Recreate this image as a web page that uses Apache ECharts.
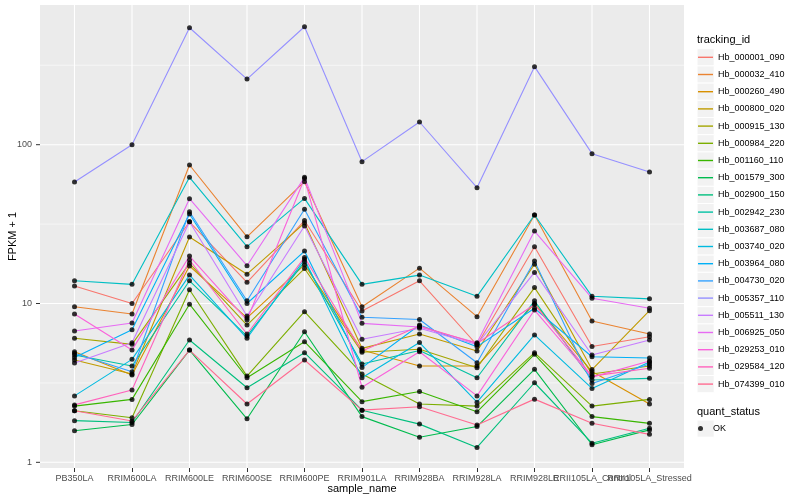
<!DOCTYPE html>
<html><head><meta charset="utf-8">
<script src="https://cdn.jsdelivr.net/npm/echarts@6/dist/echarts.min.js"></script>
<style>html,body{margin:0;padding:0;background:#fff}#c{width:800px;height:500px}</style>
</head><body><div id="c"></div>
<script>
const categories = ["PB350LA","RRIM600LA","RRIM600LE","RRIM600SE","RRIM600PE","RRIM901LA","RRIM928BA","RRIM928LA","RRIM928LE","RRII105LA_Control","RRII105LA_Stressed"];
const trackingIds = ["Hb_000001_090","Hb_000032_410","Hb_000260_490","Hb_000800_020","Hb_000915_130","Hb_000984_220","Hb_001160_110","Hb_001579_300","Hb_002900_150","Hb_002942_230","Hb_003687_080","Hb_003740_020","Hb_003964_080","Hb_004730_020","Hb_005357_110","Hb_005511_130","Hb_006925_050","Hb_029253_010","Hb_029584_120","Hb_074399_010"];
const colors = ["#F8766D","#EA8331","#D89000","#C09B00","#A3A500","#7CAE00","#39B600","#00BB4E","#00BF7D","#00C1A3","#00BFC4","#00BAE0","#00B0F6","#35A2FF","#9590FF","#C77CFF","#E76BF3","#FA62DB","#FF62BC","#FF6C91"];
const yTickValues = [1, 10, 100];
const yMinorValues = [3.162, 31.62, 316.2];
const yRange = [0.921, 758];

const hb_000001_090 = [12.9, 10.0, 32.7, 13.6, 33.3, 8.97, 13.9, 5.48, 22.8, 5.36, 6.18];
const hb_000032_410 = [9.55, 8.59, 74.5, 26.3, 58.5, 9.55, 16.7, 8.26, 36.1, 7.76, 6.43];
const hb_000260_490 = [4.97, 3.55, 17.2, 8.11, 17.5, 5.09, 4.04, 4.04, 10.0, 3.73, 2.33];
const hb_000800_020 = [4.41, 3.60, 26.2, 15.3, 32.1, 5.22, 6.43, 5.02, 17.7, 3.84, 9.01];
const hb_000915_130 = [6.04, 5.53, 17.9, 7.32, 16.6, 4.93, 5.15, 3.94, 12.6, 3.60, 4.04];
const hb_000984_220 = [2.11, 1.91, 12.2, 3.49, 8.88, 3.60, 2.33, 2.26, 4.90, 2.26, 2.49];
const hb_001160_110 = [2.26, 2.49, 9.9, 3.41, 5.75, 2.41, 2.79, 2.08, 4.79, 1.94, 1.76];
const hb_001579_300 = [1.58, 1.73, 5.09, 1.88, 6.64, 1.94, 1.44, 1.68, 3.85, 1.29, 1.60];
const hb_002900_150 = [1.83, 1.78, 5.89, 2.95, 4.90, 2.13, 1.74, 1.24, 3.17, 1.32, 1.64];
const hb_002942_230 = [4.74, 4.04, 13.9, 6.24, 18.3, 4.16, 5.06, 3.41, 10.4, 3.30, 3.38];
const hb_003687_080 = [13.9, 13.2, 62.3, 22.8, 45.9, 13.2, 15.1, 11.1, 36.1, 11.1, 10.7];
const hb_003740_020 = [2.62, 4.45, 15.1, 6.04, 19.0, 3.41, 5.68, 2.39, 6.34, 2.92, 4.28];
const hb_003964_080 = [4.57, 6.84, 36.6, 10.0, 21.4, 3.95, 7.32, 5.35, 9.33, 4.62, 4.54];
const hb_004730_020 = [4.86, 3.72, 37.8, 10.4, 39.2, 8.19, 7.93, 4.24, 18.5, 3.14, 4.16];
const hb_005357_110 = [58.2, 100, 545, 259, 553, 78.2, 139, 53.6, 310, 87.8, 67.3];
const hb_005511_130 = [4.22, 5.66, 32.7, 8.35, 30.8, 5.95, 6.98, 5.52, 15.7, 4.74, 5.89];
const hb_006925_050 = [6.71, 7.54, 45.7, 17.3, 62.3, 7.50, 7.11, 5.66, 28.6, 10.8, 9.33];
const hb_029253_010 = [8.59, 5.09, 19.9, 7.87, 61.2, 2.97, 4.97, 2.62, 9.1, 3.44, 4.34];
const hb_029584_120 = [2.30, 2.85, 18.8, 6.43, 19.5, 5.02, 7.21, 5.60, 9.85, 3.49, 3.91];
const hb_074399_010 = [2.11, 1.82, 5.09, 2.33, 4.41, 2.13, 2.24, 1.72, 2.50, 1.76, 1.50];

const seriesValues = [hb_000001_090, hb_000032_410, hb_000260_490, hb_000800_020, hb_000915_130,
  hb_000984_220, hb_001160_110, hb_001579_300, hb_002900_150, hb_002942_230, hb_003687_080,
  hb_003740_020, hb_003964_080, hb_004730_020, hb_005357_110, hb_005511_130, hb_006925_050,
  hb_029253_010, hb_029584_120, hb_074399_010];

const FONT = '"Liberation Sans", Arial, Helvetica, sans-serif';
const chart = echarts.init(document.getElementById('c'), null, {renderer: 'canvas'});

const lineSeries = trackingIds.map((id, i) => ({
  name: id, type: 'line', data: seriesValues[i], symbol: 'none', showSymbol: false,
  lineStyle: {color: colors[i], width: 1.1}, itemStyle: {color: colors[i]},
  z: 3, silent: true
}));
const pts = [];
seriesValues.forEach(vals => vals.forEach((v, j) => pts.push([j, v])));
const pointSeries = {name: 'OK', type: 'scatter', data: pts, symbol: 'circle', symbolSize: 5,
  itemStyle: {color: '#000'}, z: 4, silent: true};

chart.setOption({
  animation: false,
  textStyle: {fontFamily: FONT},
  title: [
    {text: 'tracking_id', left: 697, top: 34, padding: 0,
     textStyle: {fontSize: 11, fontWeight: 'normal', color: '#000', fontFamily: FONT}},
    {text: 'quant_status', left: 697, top: 406, padding: 0,
     textStyle: {fontSize: 11, fontWeight: 'normal', color: '#000', fontFamily: FONT}}
  ],
  grid: {left: 45.75, right: 121.75, top: 5, bottom: 32, containLabel: false, outerBoundsMode: 'none'},
  xAxis: {
    type: 'category', data: categories, boundaryGap: true,
    axisLine: {show: false},
    axisTick: {show: true, alignWithLabel: true, length: 4, lineStyle: {color: '#333333'}},
    axisLabel: {interval: 0, hideOverlap: false, margin: 6, fontSize: 9, color: '#4D4D4D', fontFamily: FONT},
    splitLine: {show: false},
    name: 'sample_name', nameLocation: 'middle', nameGap: 15, nameMoveOverlap: false,
    nameTextStyle: {fontSize: 11, color: '#000', fontFamily: FONT}
  },
  yAxis: {
    type: 'log', logBase: 10, min: yRange[0], max: yRange[1], offset: 5.75,
    axisLine: {show: false}, axisTick: {show: false}, splitLine: {show: false},
    axisLabel: {showMinLabel: false, showMaxLabel: false, fontSize: 9, color: '#4D4D4D', margin: 8,
      fontFamily: FONT, formatter: v => String(Math.round(v))},
    name: 'FPKM + 1', nameLocation: 'middle', nameGap: 22, nameMoveOverlap: false,
    nameTextStyle: {fontSize: 11, color: '#000', fontFamily: FONT}
  },
  legend: [
    {data: trackingIds, orient: 'vertical', left: 698, top: 48.7, icon: 'rect',
     itemWidth: 15, itemHeight: 1.4, itemGap: 0, padding: 0, selectedMode: false,
     textStyle: {fontSize: 9, lineHeight: 17.2, color: '#000', fontFamily: FONT}},
    {data: ['OK'], orient: 'vertical', left: 698, top: 420, icon: 'circle',
     itemWidth: 15, itemHeight: 5, itemGap: 0, padding: 0, selectedMode: false,
     textStyle: {fontSize: 9, lineHeight: 17.2, color: '#000', fontFamily: FONT}}
  ],
  series: [...lineSeries, pointSeries]
});

// panel background, grid lines and y ticks positioned through the library's scales
const xPix = i => chart.convertToPixel({xAxisIndex: 0}, categories[i]);
const yPix = v => chart.convertToPixel({yAxisIndex: 0}, v);
const step = xPix(1) - xPix(0);
const px0 = xPix(0) - 0.6 * step, px1 = xPix(categories.length - 1) + 0.6 * step;
const py0 = yPix(yRange[1]), py1 = yPix(yRange[0]);
const g = [];
g.push({type: 'rect', z: -10, silent: true, shape: {x: px0, y: py0, width: px1 - px0, height: py1 - py0},
  style: {fill: '#EBEBEB'}});
yMinorValues.forEach(v => {
  const y = yPix(v);
  g.push({type: 'line', z: -9, silent: true, shape: {x1: px0, y1: y, x2: px1, y2: y},
    style: {stroke: '#FFFFFF', lineWidth: 0.55}});
});
yTickValues.forEach(v => {
  const y = yPix(v);
  g.push({type: 'line', z: -8, silent: true, shape: {x1: px0, y1: y, x2: px1, y2: y},
    style: {stroke: '#FFFFFF', lineWidth: 1.1}});
  g.push({type: 'line', z: -8, silent: true, shape: {x1: px0 - 4, y1: y, x2: px0, y2: y},
    style: {stroke: '#333333', lineWidth: 1}});
});
categories.forEach((c, i) => {
  const x = xPix(i);
  g.push({type: 'line', z: -8, silent: true, shape: {x1: x, y1: py0, x2: x, y2: py1},
    style: {stroke: '#FFFFFF', lineWidth: 1.1}});
});
// legend key backgrounds
for (let i = 0; i < trackingIds.length; i++) {
  g.push({type: 'rect', z: -10, silent: true, shape: {x: 697, y: 48.7 + 17.2 * i, width: 17.2, height: 17.2},
    style: {fill: '#F2F2F2', stroke: '#FFFFFF', lineWidth: 1}});
}
g.push({type: 'rect', z: -10, silent: true, shape: {x: 697, y: 420, width: 17.2, height: 17.2},
  style: {fill: '#F2F2F2', stroke: '#FFFFFF', lineWidth: 1}});
chart.setOption({graphic: {elements: g}});
</script>
</body></html>
